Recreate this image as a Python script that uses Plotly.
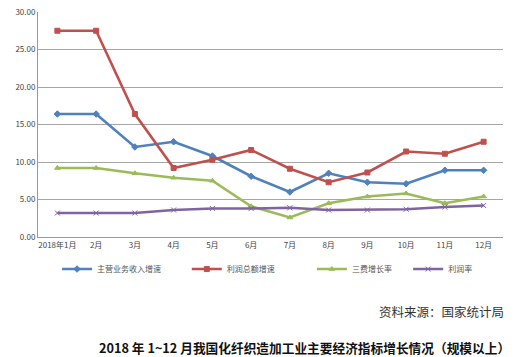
import plotly.graph_objects as go

months = ["2018年1月", "2月", "3月", "4月", "5月", "6月", "7月", "8月", "9月", "10月", "11月", "12月"]
revenue_growth = [16.4, 16.4, 12.0, 12.7, 10.8, 8.1, 6.0, 8.5, 7.3, 7.1, 8.9, 8.9]
profit_growth = [27.5, 27.5, 16.4, 9.2, 10.3, 11.6, 9.1, 7.3, 8.6, 11.4, 11.1, 12.7]
expense_growth = [9.2, 9.2, 8.5, 7.9, 7.5, 4.1, 2.6, 4.5, 5.4, 5.8, 4.5, 5.4]
profit_margin = [3.2, 3.2, 3.2, 3.6, 3.8, 3.8, 3.9, 3.6, 3.6, 3.7, 4.0, 4.2]
series_names = ["主营业务收入增速", "利润总额增速", "三费增长率", "利润率"]
y_ticks = [0, 5, 10, 15, 20, 25, 30]

colors = ["#4F81BD", "#C0504D", "#9BBB59", "#8064A2"]
symbols = ["diamond", "square", "triangle-up", "x-thin"]
legend_ids = ["legend", "legend2", "legend3", "legend4"]
legend_x = [0.041, 0.320, 0.589, 0.796]
data = [revenue_growth, profit_growth, expense_growth, profit_margin]

fig = go.Figure()
for name, vals, c, s, lg in zip(series_names, data, colors, symbols, legend_ids):
    fig.add_trace(go.Scatter(
        x=months, y=vals, name=name, mode="lines+markers",
        line=dict(color=c, width=2.6),
        marker=dict(color=c, size=5, symbol=s, line=dict(color=c, width=1)),
        legend=lg,
    ))

legend_style = dict(
    orientation="h", y=-0.078, xanchor="left", yanchor="top",
    font=dict(size=8, color="#555"), itemwidth=30, bgcolor="rgba(0,0,0,0)",
)

fig.update_layout(
    width=518, height=357,
    margin=dict(l=38, r=15, t=12, b=120, autoexpand=False),
    paper_bgcolor="white", plot_bgcolor="white",
    font=dict(family="Noto Sans CJK SC, sans-serif", size=8, color="#444"),
    showlegend=True,
    legend=dict(x=legend_x[0], **legend_style),
    legend2=dict(x=legend_x[1], **legend_style),
    legend3=dict(x=legend_x[2], **legend_style),
    legend4=dict(x=legend_x[3], **legend_style),
    xaxis=dict(
        showgrid=False, showline=True, linecolor="#999", linewidth=1,
        ticks="", tickfont=dict(size=8, color="#444"),
        range=[-0.5, 11.5],
    ),
    yaxis=dict(
        range=[0, 30], tickvals=y_ticks, tickformat=".2f",
        showgrid=True, gridcolor="#a6a6a6", gridwidth=1,
        showline=True, linecolor="#999", linewidth=1,
        ticks="", tickfont=dict(size=8, color="#444"),
        zeroline=False,
    ),
    annotations=[
        dict(text="资料来源：国家统计局", xref="paper", yref="paper",
             x=1.006, y=-0.333, xanchor="right", yanchor="middle",
             showarrow=False, font=dict(size=12.5, color="#333")),
        dict(text="<b>2018 年 1~12 月我国化纤织造加工业主要经济指标增长情况（规模以上）</b>",
             xref="paper", yref="paper", x=1.02, y=-0.489,
             xanchor="right", yanchor="middle", showarrow=False,
             font=dict(size=12.7, color="#111", family="Noto Sans CJK SC, sans-serif")),
    ],
)

fig.write_html("out.html", config={"displayModeBar": False},
               post_script="document.body.style.margin='0';document.body.style.overflow='hidden';")
